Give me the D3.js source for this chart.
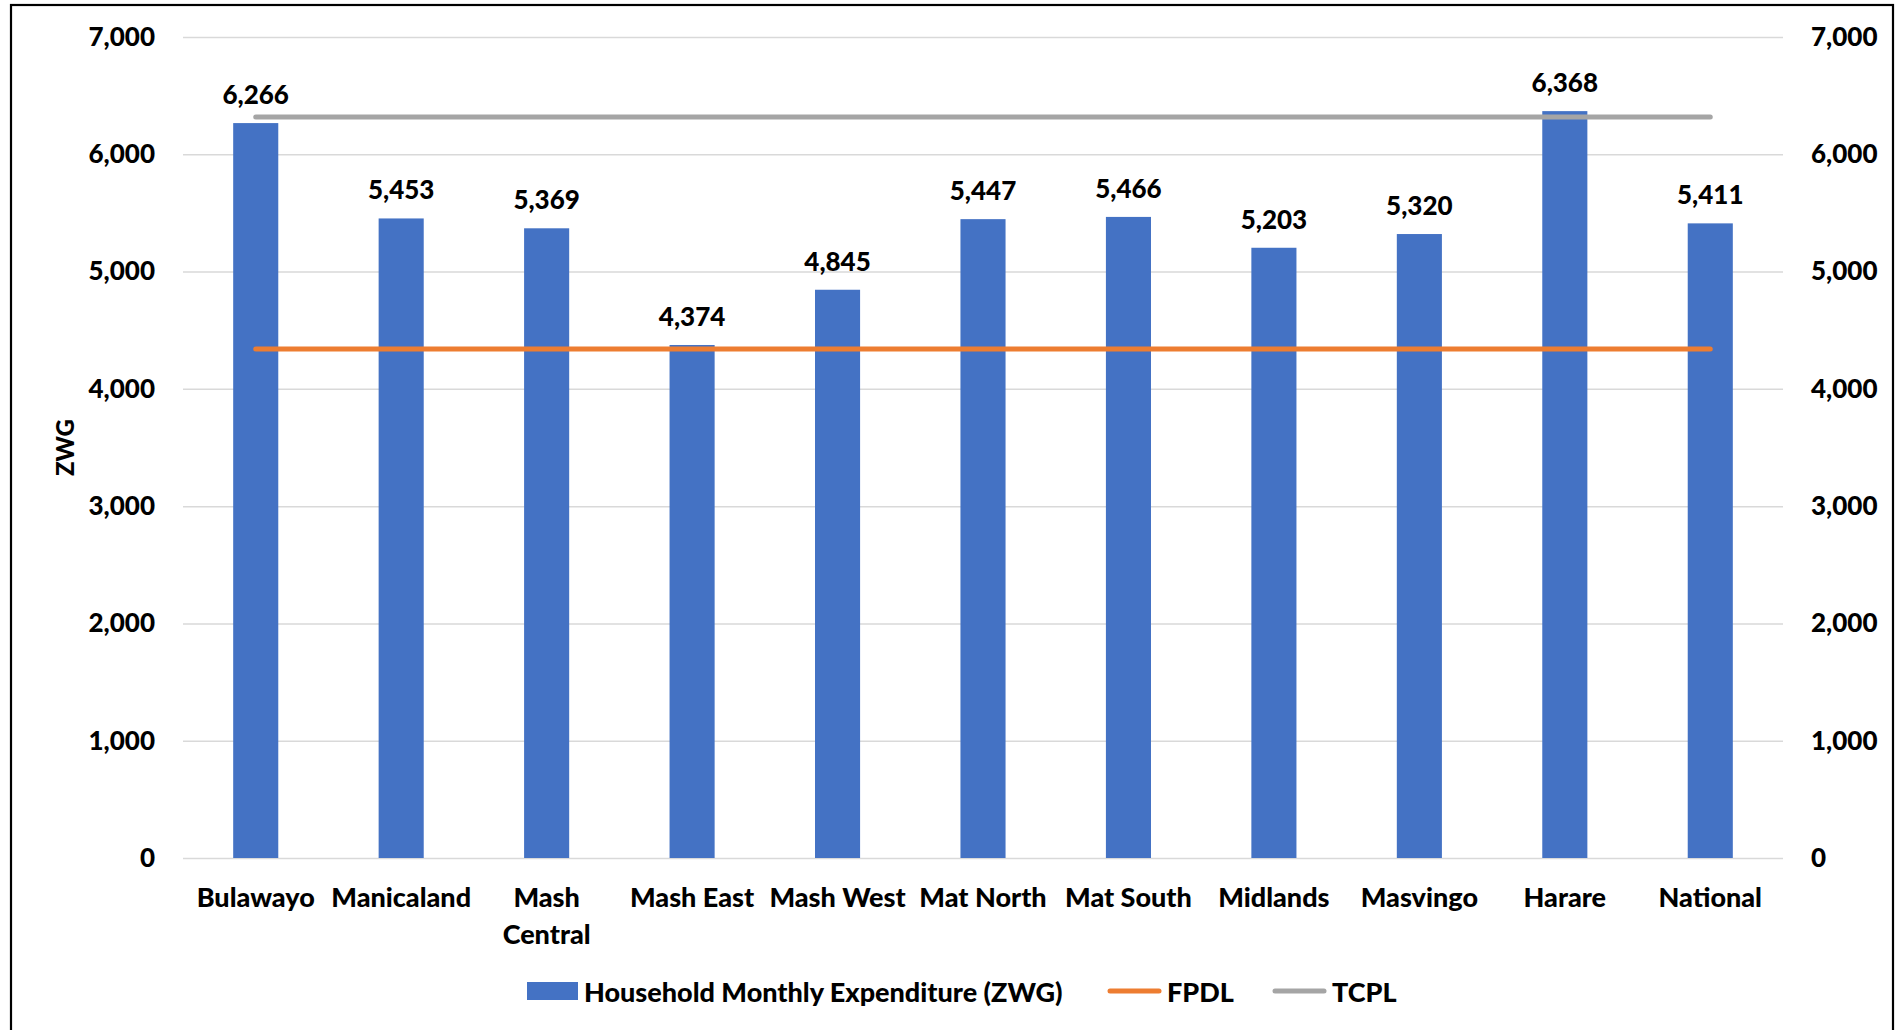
<!DOCTYPE html>
<html>
<head>
<meta charset="utf-8">
<script src="https://cdn.jsdelivr.net/npm/d3@7"></script>
<style>
  html, body { margin: 0; padding: 0; background: #fff; }
  svg { display: block; }
  text { font-family: Lato, "Open Sans", sans-serif; font-weight: 900; fill: #000; }
</style>
</head>
<body>
<svg id="chart" width="1897" height="1030"></svg>
<script>
// ---- data ----
const categories = ["Bulawayo", "Manicaland", "Mash Central", "Mash East", "Mash West", "Mat North", "Mat South", "Midlands", "Masvingo", "Harare", "National"];
const categoryLines = [["Bulawayo"], ["Manicaland"], ["Mash", "Central"], ["Mash East"], ["Mash West"], ["Mat North"], ["Mat South"], ["Midlands"], ["Masvingo"], ["Harare"], ["National"]];
const expenditure = [6266, 5453, 5369, 4374, 4845, 5447, 5466, 5203, 5320, 6368, 5411];
const fpdl = [4340, 4340, 4340, 4340, 4340, 4340, 4340, 4340, 4340, 4340, 4340];
const tcpl = [6318, 6318, 6318, 6318, 6318, 6318, 6318, 6318, 6318, 6318, 6318];
const yTicks = [0, 1000, 2000, 3000, 4000, 5000, 6000, 7000];
const seriesNames = ["Household Monthly Expenditure (ZWG)", "FPDL", "TCPL"];
const yTitle = "ZWG";

// ---- layout ----
const svg = d3.select("#chart");
const plot = { left: 183, right: 1783, top: 37, bottom: 858 };
const colors = { bar: "#4472C4", fpdl: "#ED7D31", tcpl: "#A5A5A5", grid: "#D9D9D9" };
const numSize = 26, textSize = 27;

// frame
svg.append("rect").attr("x", 11).attr("y", 5).attr("width", 1882).attr("height", 1030)
  .attr("fill", "none").attr("stroke", "#000").attr("stroke-width", 2.2);

const x = d3.scaleBand().domain(categories).range([plot.left, plot.right]).paddingInner(0.69).paddingOuter(0.345);
const y = d3.scaleLinear().domain([0, 7000]).range([plot.bottom, plot.top]);
const xc = d => x(d) + x.bandwidth() / 2;

// gridlines
const grid = svg.append("g").attr("transform", `translate(${plot.left},0)`)
  .call(d3.axisLeft(y).tickValues(yTicks).tickSize(-(plot.right - plot.left)).tickFormat(""));
grid.select(".domain").remove();
grid.selectAll(".tick line").attr("stroke", colors.grid).attr("stroke-width", 1.5);

// left axis labels
const yl = svg.append("g").attr("transform", `translate(${plot.left - 28},0)`)
  .call(d3.axisLeft(y).tickValues(yTicks).tickSize(0).tickPadding(0).tickFormat(d3.format(",")));
yl.select(".domain").remove();
yl.selectAll("text").attr("font-size", numSize).attr("font-family", "Lato").attr("font-weight", 900).attr("fill", "#000");

// right axis labels
const yr = svg.append("g").attr("transform", `translate(${plot.right + 28},0)`)
  .call(d3.axisRight(y).tickValues(yTicks).tickSize(0).tickPadding(0).tickFormat(d3.format(",")));
yr.select(".domain").remove();
yr.selectAll("text").attr("font-size", numSize).attr("font-family", "Lato").attr("font-weight", 900).attr("fill", "#000");

// y title
svg.append("text").attr("transform", `translate(64,${(plot.top + plot.bottom) / 2}) rotate(-90)`)
  .attr("text-anchor", "middle").attr("dominant-baseline", "central")
  .attr("font-size", 24).text(yTitle);

// bars
svg.append("g").selectAll("rect").data(categories).join("rect")
  .attr("x", d => x(d)).attr("width", x.bandwidth())
  .attr("y", (d, i) => y(expenditure[i]))
  .attr("height", (d, i) => y(0) - y(expenditure[i]))
  .attr("fill", colors.bar);

// data labels
svg.append("g").selectAll("text").data(categories).join("text")
  .attr("x", d => xc(d)).attr("y", (d, i) => y(expenditure[i]) - 19)
  .attr("text-anchor", "middle").attr("font-size", numSize)
  .text((d, i) => d3.format(",")(expenditure[i]));

// lines
const line = d3.line().x((d, i) => xc(categories[i])).y(d => y(d));
svg.append("path").datum(fpdl).attr("d", line).attr("fill", "none")
  .attr("stroke", colors.fpdl).attr("stroke-width", 5).attr("stroke-linecap", "round");
svg.append("path").datum(tcpl).attr("d", line).attr("fill", "none")
  .attr("stroke", colors.tcpl).attr("stroke-width", 5).attr("stroke-linecap", "round");

// x labels
const xl = svg.append("g");
categories.forEach((c, i) => {
  const t = xl.append("text").attr("x", xc(c)).attr("text-anchor", "middle").attr("font-size", textSize);
  categoryLines[i].forEach((ln, j) => {
    t.append("tspan").attr("x", xc(c)).attr("y", plot.bottom + 38 + j * 37).attr("dominant-baseline", "central").text(ln);
  });
});

// legend
const ly = 991;
const lg = svg.append("g");
lg.append("rect").attr("x", 527).attr("y", ly - 9).attr("width", 51).attr("height", 18).attr("fill", colors.bar);
lg.append("text").attr("x", 584).attr("y", ly).attr("dominant-baseline", "central").attr("font-size", textSize).text(seriesNames[0]);
lg.append("line").attr("x1", 1110).attr("x2", 1159).attr("y1", ly).attr("y2", ly)
  .attr("stroke", colors.fpdl).attr("stroke-width", 5).attr("stroke-linecap", "round");
lg.append("text").attr("x", 1167).attr("y", ly).attr("dominant-baseline", "central").attr("font-size", textSize).text(seriesNames[1]);
lg.append("line").attr("x1", 1275).attr("x2", 1324).attr("y1", ly).attr("y2", ly)
  .attr("stroke", colors.tcpl).attr("stroke-width", 5).attr("stroke-linecap", "round");
lg.append("text").attr("x", 1332).attr("y", ly).attr("dominant-baseline", "central").attr("font-size", textSize).text(seriesNames[2]);
</script>
</body>
</html>
